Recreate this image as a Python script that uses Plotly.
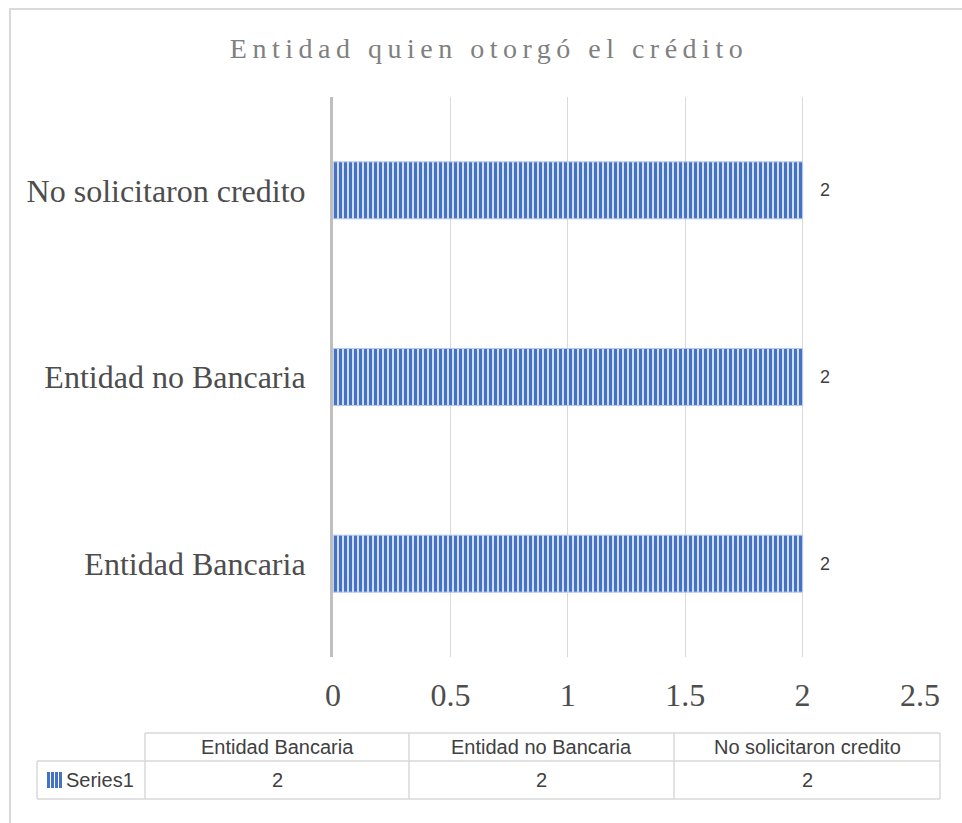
import plotly.graph_objects as go

categories = ["Entidad Bancaria", "Entidad no Bancaria", "No solicitaron credito"]
values = [2, 2, 2]
series_name = "Series1"
x_ticks = [0, 0.5, 1, 1.5, 2, 2.5]
x_ticklabels = ["0", "0.5", "1", "1.5", "2", "2.5"]
title_text = "Entidad quien otorgó el crédito"

W, H = 962, 823
L, R, T, B = 333, 920, 97, 657  # plot area in pixels


def px(xp):
    return (xp - L) / (R - L)


def py(yp):
    return (B - yp) / (B - T)


fig = go.Figure()
fig.add_trace(go.Bar(
    y=categories, x=values, orientation="h", name=series_name,
    marker=dict(
        color="#d0ddf4",
        line=dict(color="#b4c7ea", width=1),
        pattern=dict(shape="|", fgcolor="#4472c4", bgcolor="#d0ddf4",
                     size=5, solidity=0.6, fillmode="replace"),
    ),
    hoverinfo="x+y",
))

annotations = []
for c, v in zip(categories, values):
    annotations.append(dict(x=v, y=c, xref="x", yref="y", text=str(v),
                            showarrow=False, xanchor="left", xshift=15,
                            font=dict(family="Liberation Sans", size=18, color="#404040")))

# data table below the chart
col_edges = [37, 145, 409, 674, 940]
row_edges = [733, 761, 799]
line_col = "#d9d9d9"
shapes = []


def hline(x0, x1, y):
    shapes.append(dict(type="line", xref="paper", yref="paper", x0=px(x0), x1=px(x1),
                       y0=py(y), y1=py(y), line=dict(color=line_col, width=1.5)))


def vline(x, y0, y1):
    shapes.append(dict(type="line", xref="paper", yref="paper", x0=px(x), x1=px(x),
                       y0=py(y0), y1=py(y1), line=dict(color=line_col, width=1.5)))


hline(col_edges[1], col_edges[-1], row_edges[0])
hline(col_edges[0], col_edges[-1], row_edges[1])
hline(col_edges[0], col_edges[-1], row_edges[2])
vline(col_edges[0], row_edges[1], row_edges[2])
for xe in col_edges[1:]:
    vline(xe, row_edges[0], row_edges[2])

tfont = dict(family="Liberation Sans", size=20, color="#404040")
for i, c in enumerate(categories):
    cx = (col_edges[i + 1] + col_edges[i + 2]) / 2
    annotations.append(dict(x=px(cx), y=py((row_edges[0] + row_edges[1]) / 2), xref="paper", yref="paper",
                            text=c, showarrow=False, font=tfont, xanchor="center", yanchor="middle"))
    annotations.append(dict(x=px(cx), y=py((row_edges[1] + row_edges[2]) / 2), xref="paper", yref="paper",
                            text=str(values[i]), showarrow=False, font=tfont, xanchor="center", yanchor="middle"))

annotations.append(dict(x=px(64), y=py((row_edges[1] + row_edges[2]) / 2), xref="paper", yref="paper",
                        text=series_name, showarrow=False, font=tfont, xanchor="left", yanchor="middle"))
# legend key with stripes
for k in range(4):
    shapes.append(dict(type="rect", xref="paper", yref="paper",
                       x0=px(47 + k * 4), x1=px(50 + k * 4), y0=py(788), y1=py(772),
                       fillcolor="#4472c4", line=dict(width=0)))

# outer chart frame (extends beyond window)
shapes.append(dict(type="rect", xref="paper", yref="paper", x0=px(10), x1=px(1000),
                   y0=py(9), y1=py(900), line=dict(color="#d9d9d9", width=2),
                   fillcolor="rgba(0,0,0,0)", layer="below"))

fig.update_layout(
    width=W, height=H,
    margin=dict(l=L, r=W - R, t=T, b=H - B),
    paper_bgcolor="white", plot_bgcolor="white",
    showlegend=False,
    bargap=0.695,
    title=dict(text=title_text, xref="container", yref="container",
               x=489 / W, y=1 - 48 / H, xanchor="center", yanchor="middle",
               font=dict(family="Liberation Serif", size=28, color="#808080")),
    xaxis=dict(range=[0, 2.5], tickvals=x_ticks, ticktext=x_ticklabels,
               showgrid=True, gridcolor="#d9d9d9", gridwidth=1, zeroline=False,
               showline=False, ticks="", ticklabelstandoff=16,
               tickfont=dict(family="Liberation Serif", size=32, color="#4d4d4d")),
    yaxis=dict(range=[-0.5, 2.5], showline=True, linecolor="#bfbfbf", linewidth=3,
               showgrid=False, zeroline=False, ticks="", ticklabelstandoff=18,
               tickfont=dict(family="Liberation Serif", size=32, color="#4d4d4d")),
    shapes=shapes, annotations=annotations,
)

post = ("document.body.style.margin='0';"
        "document.querySelectorAll('.gtitle').forEach(function(e){e.style.letterSpacing='5.5px';});")
fig.write_html("out.html", post_script=post, config={"displayModeBar": False})
